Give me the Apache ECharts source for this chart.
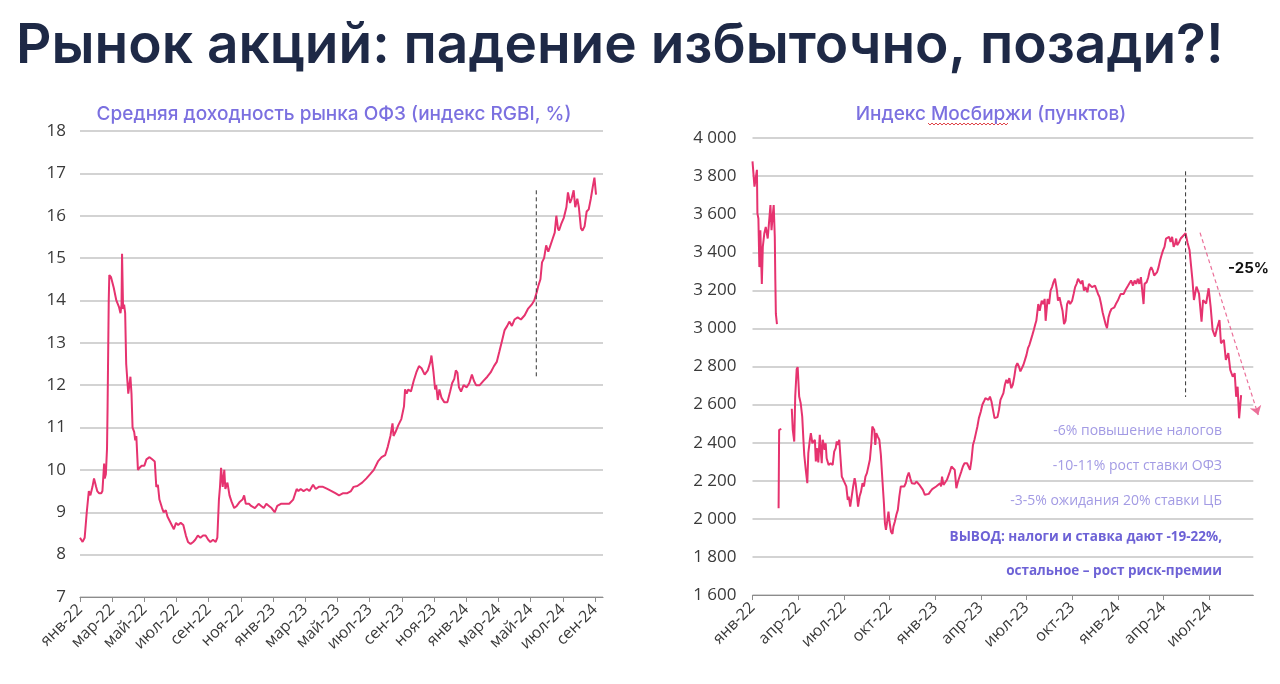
<!DOCTYPE html>
<html><head><meta charset="utf-8">
<script src="https://cdn.jsdelivr.net/npm/echarts@6/dist/echarts.min.js"></script>
<style>html,body{margin:0;padding:0;background:#fff}#c{width:1280px;height:684px}</style>
</head><body><div id="c"></div>
<script>
const monthNames = ['янв','фев','мар','апр','май','июн','июл','авг','сен','окт','ноя','дек'];
const mainTitle = 'Рынок акций: падение избыточно, позади?!';
const leftTitle = 'Средняя доходность рынка ОФЗ (индекс RGBI, %)';
const rightTitle = 'Индекс Мосбиржи (пунктов)';

const ofzDates = ['2022-01-01','2022-01-06','2022-01-10','2022-01-14','2022-01-18','2022-01-21','2022-01-25','2022-01-28','2022-02-01','2022-02-03','2022-02-06','2022-02-10','2022-02-12','2022-02-15','2022-02-16','2022-02-18','2022-02-20','2022-02-21','2022-02-23','2022-02-24','2022-02-27','2022-03-04','2022-03-09','2022-03-14','2022-03-17','2022-03-19','2022-03-20','2022-03-22','2022-03-24','2022-03-26','2022-03-28','2022-04-01','2022-04-02','2022-04-05','2022-04-07','2022-04-09','2022-04-12','2022-04-14','2022-04-16','2022-04-19','2022-04-22','2022-04-26','2022-05-01','2022-05-05','2022-05-11','2022-05-16','2022-05-21','2022-05-24','2022-05-27','2022-05-30','2022-06-04','2022-06-07','2022-06-11','2022-06-14','2022-06-18','2022-06-22','2022-06-26','2022-06-30','2022-07-04','2022-07-09','2022-07-14','2022-07-19','2022-07-23','2022-07-28','2022-08-02','2022-08-06','2022-08-11','2022-08-16','2022-08-21','2022-08-26','2022-08-31','2022-09-04','2022-09-09','2022-09-14','2022-09-17','2022-09-20','2022-09-22','2022-09-24','2022-09-27','2022-09-30','2022-10-02','2022-10-06','2022-10-10','2022-10-14','2022-10-19','2022-10-24','2022-10-30','2022-11-04','2022-11-07','2022-11-10','2022-11-16','2022-11-20','2022-11-27','2022-12-04','2022-12-09','2022-12-14','2022-12-19','2022-12-24','2022-12-29','2023-01-04','2023-01-09','2023-01-16','2023-01-24','2023-02-01','2023-02-08','2023-02-14','2023-02-17','2023-02-21','2023-02-26','2023-03-04','2023-03-09','2023-03-16','2023-03-21','2023-03-27','2023-04-04','2023-04-12','2023-04-20','2023-04-27','2023-05-04','2023-05-12','2023-05-20','2023-05-27','2023-06-01','2023-06-08','2023-06-17','2023-06-25','2023-07-02','2023-07-09','2023-07-17','2023-07-24','2023-07-31','2023-08-05','2023-08-10','2023-08-14','2023-08-16','2023-08-20','2023-08-25','2023-08-31','2023-09-05','2023-09-07','2023-09-10','2023-09-13','2023-09-18','2023-09-23','2023-09-28','2023-10-03','2023-10-08','2023-10-14','2023-10-20','2023-10-25','2023-10-27','2023-10-31','2023-11-03','2023-11-05','2023-11-08','2023-11-11','2023-11-15','2023-11-20','2023-11-26','2023-12-01','2023-12-05','2023-12-09','2023-12-12','2023-12-15','2023-12-18','2023-12-22','2023-12-27','2024-01-02','2024-01-07','2024-01-12','2024-01-16','2024-01-20','2024-01-27','2024-02-03','2024-02-10','2024-02-16','2024-02-22','2024-02-27','2024-03-03','2024-03-08','2024-03-13','2024-03-18','2024-03-22','2024-03-27','2024-04-01','2024-04-07','2024-04-13','2024-04-20','2024-04-26','2024-05-03','2024-05-08','2024-05-13','2024-05-16','2024-05-20','2024-05-23','2024-05-27','2024-05-31','2024-06-04','2024-06-08','2024-06-12','2024-06-16','2024-06-19','2024-06-22','2024-06-24','2024-06-28','2024-07-03','2024-07-08','2024-07-11','2024-07-15','2024-07-18','2024-07-22','2024-07-25','2024-07-29','2024-08-01','2024-08-05','2024-08-08','2024-08-12','2024-08-16','2024-08-20','2024-08-24','2024-08-28','2024-08-31','2024-09-03'];
const ofzValues = [8.4,8.3,8.4,9.0,9.5,9.4,9.6,9.8,9.6,9.5,9.45,9.45,9.5,10.15,9.8,9.9,10.5,11.5,14.0,14.6,14.55,14.3,14.0,13.85,13.7,13.9,15.1,13.8,13.9,13.7,12.5,11.8,11.9,12.2,11.8,11.0,10.9,10.7,10.8,10.0,10.05,10.1,10.1,10.25,10.3,10.25,10.2,9.6,9.65,9.3,9.1,9.0,9.05,8.9,8.8,8.7,8.6,8.75,8.7,8.75,8.7,8.45,8.3,8.25,8.3,8.35,8.45,8.4,8.45,8.45,8.35,8.3,8.35,8.3,8.4,9.3,9.6,10.05,9.6,10.0,9.55,9.7,9.4,9.25,9.1,9.15,9.25,9.3,9.4,9.2,9.2,9.15,9.1,9.2,9.15,9.1,9.2,9.15,9.1,9.0,9.15,9.2,9.2,9.2,9.3,9.55,9.5,9.55,9.5,9.55,9.5,9.65,9.55,9.6,9.6,9.55,9.5,9.45,9.4,9.45,9.45,9.5,9.6,9.62,9.7,9.8,9.9,10.0,10.2,10.3,10.35,10.55,10.8,11.1,10.8,10.9,11.05,11.2,11.5,11.9,11.8,11.9,11.85,12.1,12.3,12.45,12.4,12.25,12.35,12.55,12.7,12.3,11.9,12.0,11.65,11.9,11.7,11.6,11.6,11.85,12.05,12.15,12.35,12.3,11.95,11.85,12.0,11.95,12.05,12.25,12.1,12.0,12.0,12.1,12.2,12.3,12.45,12.55,12.8,13.05,13.3,13.4,13.5,13.4,13.55,13.6,13.55,13.65,13.8,13.9,14.0,14.2,14.35,14.5,14.9,15.0,15.3,15.15,15.3,15.45,15.6,16.0,15.7,15.65,15.8,15.95,16.2,16.55,16.3,16.4,16.6,16.2,16.4,16.2,15.7,15.65,15.75,16.1,16.15,16.4,16.7,16.9,16.5];

const moexDates = ['2022-01-01','2022-01-05','2022-01-07','2022-01-10','2022-01-11','2022-01-13','2022-01-15','2022-01-17','2022-01-20','2022-01-22','2022-01-25','2022-01-28','2022-02-01','2022-02-04','2022-02-06','2022-02-08','2022-02-10','2022-02-12','2022-02-14','2022-02-15','2022-02-16','2022-02-18','2022-02-20','2022-02-21','2022-02-22','2022-02-26','2022-03-01','2022-03-19','2022-03-21','2022-03-24','2022-03-26','2022-03-29','2022-03-31','2022-04-03','2022-04-06','2022-04-09','2022-04-11','2022-04-13','2022-04-16','2022-04-19','2022-04-21','2022-04-24','2022-04-26','2022-04-29','2022-05-02','2022-05-04','2022-05-06','2022-05-08','2022-05-11','2022-05-14','2022-05-16','2022-05-18','2022-05-20','2022-05-24','2022-05-26','2022-05-28','2022-06-01','2022-06-05','2022-06-09','2022-06-12','2022-06-15','2022-06-17','2022-06-19','2022-06-22','2022-06-24','2022-06-27','2022-06-30','2022-07-03','2022-07-06','2022-07-09','2022-07-11','2022-07-14','2022-07-17','2022-07-20','2022-07-23','2022-07-25','2022-07-28','2022-07-30','2022-08-02','2022-08-05','2022-08-08','2022-08-11','2022-08-14','2022-08-17','2022-08-20','2022-08-23','2022-08-26','2022-08-28','2022-09-01','2022-09-03','2022-09-05','2022-09-08','2022-09-11','2022-09-14','2022-09-17','2022-09-20','2022-09-22','2022-09-24','2022-09-26','2022-09-29','2022-10-01','2022-10-04','2022-10-07','2022-10-09','2022-10-12','2022-10-15','2022-10-18','2022-10-21','2022-10-24','2022-10-27','2022-10-31','2022-11-03','2022-11-06','2022-11-09','2022-11-12','2022-11-15','2022-11-18','2022-11-21','2022-11-24','2022-11-27','2022-11-30','2022-12-03','2022-12-07','2022-12-11','2022-12-15','2022-12-19','2022-12-22','2022-12-26','2022-12-30','2023-01-03','2023-01-07','2023-01-11','2023-01-13','2023-01-15','2023-01-18','2023-01-21','2023-01-25','2023-01-28','2023-01-31','2023-02-03','2023-02-06','2023-02-09','2023-02-12','2023-02-15','2023-02-18','2023-02-21','2023-02-24','2023-02-27','2023-03-01','2023-03-04','2023-03-07','2023-03-10','2023-03-13','2023-03-16','2023-03-19','2023-03-22','2023-03-25','2023-03-28','2023-04-01','2023-04-04','2023-04-07','2023-04-10','2023-04-13','2023-04-16','2023-04-19','2023-04-22','2023-04-25','2023-04-28','2023-05-01','2023-05-04','2023-05-07','2023-05-10','2023-05-13','2023-05-16','2023-05-19','2023-05-22','2023-05-25','2023-05-28','2023-06-01','2023-06-04','2023-06-07','2023-06-10','2023-06-13','2023-06-16','2023-06-19','2023-06-22','2023-06-25','2023-06-28','2023-07-01','2023-07-04','2023-07-07','2023-07-10','2023-07-13','2023-07-16','2023-07-19','2023-07-21','2023-07-25','2023-07-28','2023-08-01','2023-08-04','2023-08-07','2023-08-09','2023-08-13','2023-08-16','2023-08-19','2023-08-22','2023-08-25','2023-08-28','2023-09-01','2023-09-03','2023-09-06','2023-09-09','2023-09-12','2023-09-15','2023-09-18','2023-09-21','2023-09-24','2023-09-27','2023-10-01','2023-10-04','2023-10-07','2023-10-10','2023-10-13','2023-10-16','2023-10-19','2023-10-22','2023-10-25','2023-10-28','2023-11-01','2023-11-04','2023-11-07','2023-11-10','2023-11-13','2023-11-16','2023-11-19','2023-11-22','2023-11-25','2023-11-28','2023-12-01','2023-12-04','2023-12-07','2023-12-10','2023-12-13','2023-12-16','2023-12-19','2023-12-22','2023-12-25','2023-12-28','2024-01-01','2024-01-04','2024-01-07','2024-01-10','2024-01-13','2024-01-16','2024-01-19','2024-01-22','2024-01-25','2024-01-28','2024-02-01','2024-02-04','2024-02-07','2024-02-10','2024-02-13','2024-02-16','2024-02-21','2024-02-23','2024-02-27','2024-03-01','2024-03-04','2024-03-07','2024-03-10','2024-03-13','2024-03-16','2024-03-19','2024-03-22','2024-03-25','2024-03-28','2024-03-31','2024-04-03','2024-04-06','2024-04-09','2024-04-12','2024-04-15','2024-04-18','2024-04-21','2024-04-24','2024-04-26','2024-04-28','2024-05-02','2024-05-05','2024-05-09','2024-05-15','2024-05-19','2024-05-23','2024-05-29','2024-06-01','2024-06-06','2024-06-11','2024-06-16','2024-06-19','2024-06-25','2024-06-30','2024-07-04','2024-07-08','2024-07-13','2024-07-16','2024-07-22','2024-07-25','2024-07-31','2024-08-04','2024-08-09','2024-08-13','2024-08-18','2024-08-22','2024-08-25','2024-08-28','2024-08-31','2024-09-04'];
const moexValues = [3877,3745,3736,3833,3604,3577,3322,3516,3234,3428,3498,3533,3472,3463,3648,3516,3586,3648,3481,3252,3076,3023,null,2056,2467,2472,null,2578,2467,2406,2642,2786,2797,2642,2607,2537,2432,2336,2257,2187,2345,2415,2450,2397,2388,2415,2301,2371,2296,2441,2362,2292,2415,2362,2397,2318,2283,2292,2283,2353,2371,2406,2388,2415,2336,2222,2205,2213,2170,2099,2117,2064,2117,2170,2213,2187,2117,2064,2117,2143,2187,2170,2222,2240,2275,2310,2397,2485,2467,2388,2450,2432,2415,2336,2205,2082,1977,1942,1977,2038,1986,1933,1921,1959,1986,2021,2047,2117,2170,2178,2170,2187,2222,2243,2213,2187,2196,2184,2196,2196,2178,2170,2152,2126,2117,2131,2143,2156,2161,2170,2161,2187,2170,2222,2178,2187,2205,2213,2248,2275,2266,2257,2161,2196,2222,2248,2275,2292,2283,2292,2283,2257,2310,2388,2415,2450,2485,2529,2564,2599,2616,2634,2642,2625,2642,2616,2572,2529,2529,2534,2572,2625,2634,2660,2704,2730,2712,2739,2686,2704,2747,2800,2818,2800,2774,2782,2809,2835,2861,2896,2914,2940,2966,2993,3023,3040,3128,3093,3146,3128,3155,3040,3155,3128,3199,3217,3243,3261,3199,3146,3164,3128,3093,3023,3040,3128,3146,3128,3146,3181,3217,3234,3261,3255,3234,3252,3199,3217,3190,3234,3243,3217,3208,3225,3217,3181,3164,3128,3085,3076,3023,3002,3058,3085,3102,3093,3111,3128,3146,3164,3181,3190,3181,3199,3190,3225,3234,3252,3225,3252,3234,3261,3234,3269,3128,3234,3243,3269,3305,3322,3305,3278,3269,3296,3322,3357,3384,3410,3428,3472,3467,3481,3454,3481,3428,3445,3472,3437,3454,3472,3481,3500,3450,3412,3254,3149,3219,3183,3035,3149,3131,3211,3114,2992,2957,2990,3044,2922,2940,2834,2870,2782,2746,2765,2641,2694,2528,2650];

// annotation anchors (date, value)
const ofzMarkerLine = [['2024-05-12', 16.6], ['2024-05-12', 12.17]];
const moexMarkerLine = [['2024-05-15', 3825], ['2024-05-15', 2640]];
const moexTrendArrow = [['2024-06-13', 3503], ['2024-10-08', 2545]];
const trendLabel = '-25%';
const notes = ['-6% повышение налогов', '-10-11% рост ставки ОФЗ', '-3-5% ожидания 20% ставки ЦБ'];
const conclusion = ['ВЫВОД: налоги и ставка дают -19-22%,', 'остальное – рост риск-премии'];

function mIdx(s) {
  const p = s.split('-').map(Number);
  const dim = new Date(p[0], p[1], 0).getDate();
  return (p[0] - 2022) * 12 + (p[1] - 1) + (p[2] - 1) / dim;
}
function monthLabel(v) {
  const i = Math.round(v);
  return monthNames[((i % 12) + 12) % 12] + '-' + (22 + Math.floor(i / 12));
}
function thousands(v) {
  return String(v).replace(/\B(?=(\d{3})+(?!\d))/g, ' ');
}

const LINE = '#e6336f';
const GRIDC = '#c4c4c4';
const AXC = '#8c8c8c';
const LBL = '#3a3a3a';
const FONT = '"Open Sans", "Noto Sans", sans-serif';

const chart = echarts.init(document.getElementById('c'), null, { renderer: 'canvas' });

function xAxisCfg(gridIndex, max, interval) {
  return {
    type: 'value', gridIndex, min: 0, max, interval,
    axisLine: { show: true, lineStyle: { color: AXC, width: 1.2 } },
    axisTick: { show: true, length: 5, lineStyle: { color: AXC } },
    splitLine: { show: false },
    axisLabel: { rotate: 45, margin: 10, fontSize: 16, color: LBL, fontFamily: FONT, formatter: monthLabel, showMaxLabel: false }
  };
}

const ofzSeriesData = ofzDates.map((d, i) => [mIdx(d), ofzValues[i]]);
const moexSeriesData = moexDates.map((d, i) => [mIdx(d), moexValues[i] === null ? '-' : moexValues[i]]);

const option = {
  animation: false,
  backgroundColor: '#fff',
  title: [
    { text: mainTitle, left: 11, top: 14, textStyle: { fontSize: 55, fontWeight: 600, color: '#1e2946', fontFamily: 'Inter, sans-serif' } },
    { text: leftTitle, left: 329, top: 100, textAlign: 'center', textStyle: { fontSize: 19, fontWeight: 500, color: '#7b70e0', fontFamily: 'Inter, sans-serif' } },
    { text: rightTitle, left: 986, top: 100, textAlign: 'center', textStyle: { fontSize: 19, fontWeight: 500, color: '#7b70e0', fontFamily: 'Inter, sans-serif' } }
  ],
  grid: [
    { left: 80, top: 131, width: 523, height: 466 },
    { left: 752.5, top: 138, width: 500.8, height: 457 }
  ],
  xAxis: [xAxisCfg(0, 32.5, 2), xAxisCfg(1, 32.9, 3)],
  yAxis: [
    { type: 'value', gridIndex: 0, min: 7, max: 18, interval: 1,
      axisLine: { show: false }, axisTick: { show: false },
      splitLine: { lineStyle: { color: GRIDC, width: 1.5 } },
      axisLabel: { fontSize: 17, color: LBL, margin: 14, fontFamily: FONT } },
    { type: 'value', gridIndex: 1, min: 1600, max: 4000, interval: 200,
      axisLine: { show: false }, axisTick: { show: false },
      splitLine: { lineStyle: { color: GRIDC, width: 1.5 } },
      axisLabel: { fontSize: 17, color: LBL, margin: 16, fontFamily: FONT, formatter: thousands } }
  ],
  series: [
    { type: 'line', xAxisIndex: 0, yAxisIndex: 0, data: ofzSeriesData, showSymbol: false, symbol: 'none',
      lineStyle: { color: LINE, width: 2 }, z: 3 },
    { type: 'line', xAxisIndex: 1, yAxisIndex: 1, data: moexSeriesData, showSymbol: false, symbol: 'none',
      connectNulls: false, lineStyle: { color: LINE, width: 2 }, z: 3 },
    { type: 'line', xAxisIndex: 0, yAxisIndex: 0, data: ofzMarkerLine.map(p => [mIdx(p[0]), p[1]]), symbol: 'none',
      lineStyle: { color: '#333', width: 1, type: [4, 3] }, z: 4 },
    { type: 'line', xAxisIndex: 1, yAxisIndex: 1, data: moexMarkerLine.map(p => [mIdx(p[0]), p[1]]), symbol: 'none',
      lineStyle: { color: '#333', width: 1, type: [4, 3] }, z: 4 },
    { type: 'lines', coordinateSystem: 'cartesian2d', xAxisIndex: 1, yAxisIndex: 1, clip: false,
      symbol: ['none', 'arrow'], symbolSize: 9,
      lineStyle: { color: '#e9608e', width: 1.2, type: [4, 3], opacity: 0.9 },
      data: [{ coords: moexTrendArrow.map(p => [mIdx(p[0]), p[1]]) }], z: 4 }
  ],
  graphic: []
};

chart.setOption(option);

// annotation texts (right chart)
const g = [];
g.push({ type: 'text', left: 1228, top: 261, style: { text: trendLabel, font: 'bold 15px Inter, sans-serif', fill: '#111' } });
const noteY = [431, 466, 501];
notes.forEach((t, i) => g.push({ type: 'text', x: 1222, y: noteY[i], style: { text: t, font: '14px "Open Sans", sans-serif', fill: '#a39be4', textAlign: 'right', textVerticalAlign: 'middle' } }));
const concY = [537, 571];
conclusion.forEach((t, i) => g.push({ type: 'text', x: 1222, y: concY[i], style: { text: t, font: 'bold 13.5px "Open Sans", sans-serif', fill: '#6d62d6', textAlign: 'right', textVerticalAlign: 'middle' } }));
// spell-check style wavy underline under "Мосбиржи"
const wave = [];
for (let x = 928; x <= 1008; x += 2) wave.push([x, 124 + ((x / 2) % 2 ? 1 : -1)]);
g.push({ type: 'polyline', shape: { points: wave }, style: { stroke: '#e0454a', lineWidth: 1, fill: null } });
chart.setOption({ graphic: g });
</script>
</body></html>
